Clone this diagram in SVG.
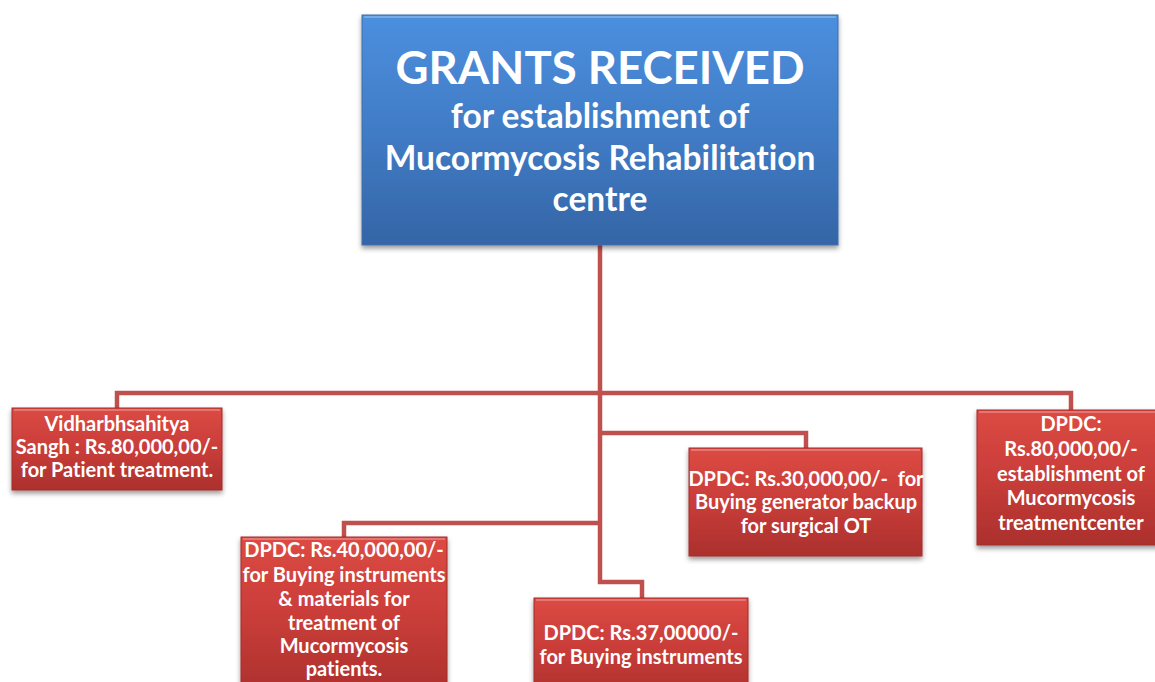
<svg xmlns="http://www.w3.org/2000/svg" width="1155" height="682" viewBox="0 0 1155 682">
<defs>
<linearGradient id="gBlue" x1="0" y1="0" x2="0" y2="1">
<stop offset="0" stop-color="#4b8fde"/>
<stop offset="0.5" stop-color="#417cc6"/>
<stop offset="1" stop-color="#3465a6"/>
</linearGradient>
<linearGradient id="gRed" x1="0" y1="0" x2="0" y2="1">
<stop offset="0" stop-color="#dc4a44"/>
<stop offset="0.5" stop-color="#c93d39"/>
<stop offset="1" stop-color="#ab302d"/>
</linearGradient>
<filter id="sh" x="-10%" y="-10%" width="120%" height="130%">
<feDropShadow dx="0" dy="3" stdDeviation="2.5" flood-color="#000" flood-opacity="0.4"/>
</filter>
<style>
.blue{fill:url(#gBlue);stroke:#3c6fae;stroke-width:1;filter:url(#sh)}
.red{fill:url(#gRed);stroke:#a32c29;stroke-width:1;filter:url(#sh)}
.hl{fill:none;stroke:#ffffff;stroke-opacity:0.25;stroke-width:2}
.t{font-family:Lato,"Liberation Sans",sans-serif;font-weight:bold;fill:#ffffff;text-anchor:middle;font-variant-ligatures:none}
.s{font-size:20px}
.conn{fill:none;stroke:#c0504d;stroke-width:4.5;stroke-linejoin:miter}
</style>
</defs>
<rect width="1155" height="682" fill="#ffffff"/>
<g id="connectors">
<path class="conn" d="M600 245 V582 H642 V598"/>
<path class="conn" d="M117 408 V393 H1071 V410"/>
<path class="conn" d="M600 433 H806 V448"/>
<path class="conn" d="M600 523 H344 V537"/>
</g>
<g id="root">
<rect class="blue" x="362" y="15" width="476" height="230"/>
<path class="hl" d="M364 17 H836"/>
<text class="t" x="600" y="84" font-size="45.5">GRANTS RECEIVED</text>
<text class="t" x="600" y="128" font-size="33.5">for establishment of</text>
<text class="t" x="600" y="170" font-size="33.5">Mucormycosis Rehabilitation</text>
<text class="t" x="600" y="211" font-size="33.5">centre</text>
</g>
<g id="n1">
<rect class="red" x="12" y="408" width="210" height="82"/>
<path class="hl" d="M14 410 H220"/>
<text class="t s" x="117" y="431">Vidharbhsahitya</text>
<text class="t s" x="117" y="454">Sangh : Rs.80,000,00/-</text>
<text class="t s" x="117" y="477">for Patient treatment.</text>
</g>
<g id="n2">
<rect class="red" x="241" y="537" width="206" height="160"/>
<path class="hl" d="M243 539 H445"/>
<text class="t s" x="344" y="557">DPDC: Rs.40,000,00/-</text>
<text class="t s" x="344" y="582">for Buying instruments</text>
<text class="t s" x="344" y="606">&amp; materials for</text>
<text class="t s" x="344" y="630">treatment of</text>
<text class="t s" x="344" y="653">Mucormycosis</text>
<text class="t s" x="344" y="676">patients.</text>
</g>
<g id="n3">
<rect class="red" x="534" y="598" width="214" height="100"/>
<path class="hl" d="M536 600 H746"/>
<text class="t s" x="641" y="640">DPDC: Rs.37,00000/-</text>
<text class="t s" x="641" y="664">for Buying instruments</text>
</g>
<g id="n4">
<rect class="red" x="689" y="448" width="233" height="108"/>
<path class="hl" d="M691 450 H920"/>
<text class="t s" x="806" y="486" xml:space="preserve">DPDC: Rs.30,000,00/-  for</text>
<text class="t s" x="806" y="509">Buying generator backup</text>
<text class="t s" x="806" y="533">for surgical OT</text>
</g>
<g id="n5">
<rect class="red" x="977" y="410" width="190" height="135"/>
<path class="hl" d="M979 412 H1165"/>
<text class="t s" x="1071" y="431">DPDC:</text>
<text class="t s" x="1071" y="456">Rs.80,000,00/-</text>
<text class="t s" x="1071" y="481">establishment of</text>
<text class="t s" x="1071" y="505">Mucormycosis</text>
<text class="t s" x="1071" y="530">treatmentcenter</text>
</g>
</svg>
